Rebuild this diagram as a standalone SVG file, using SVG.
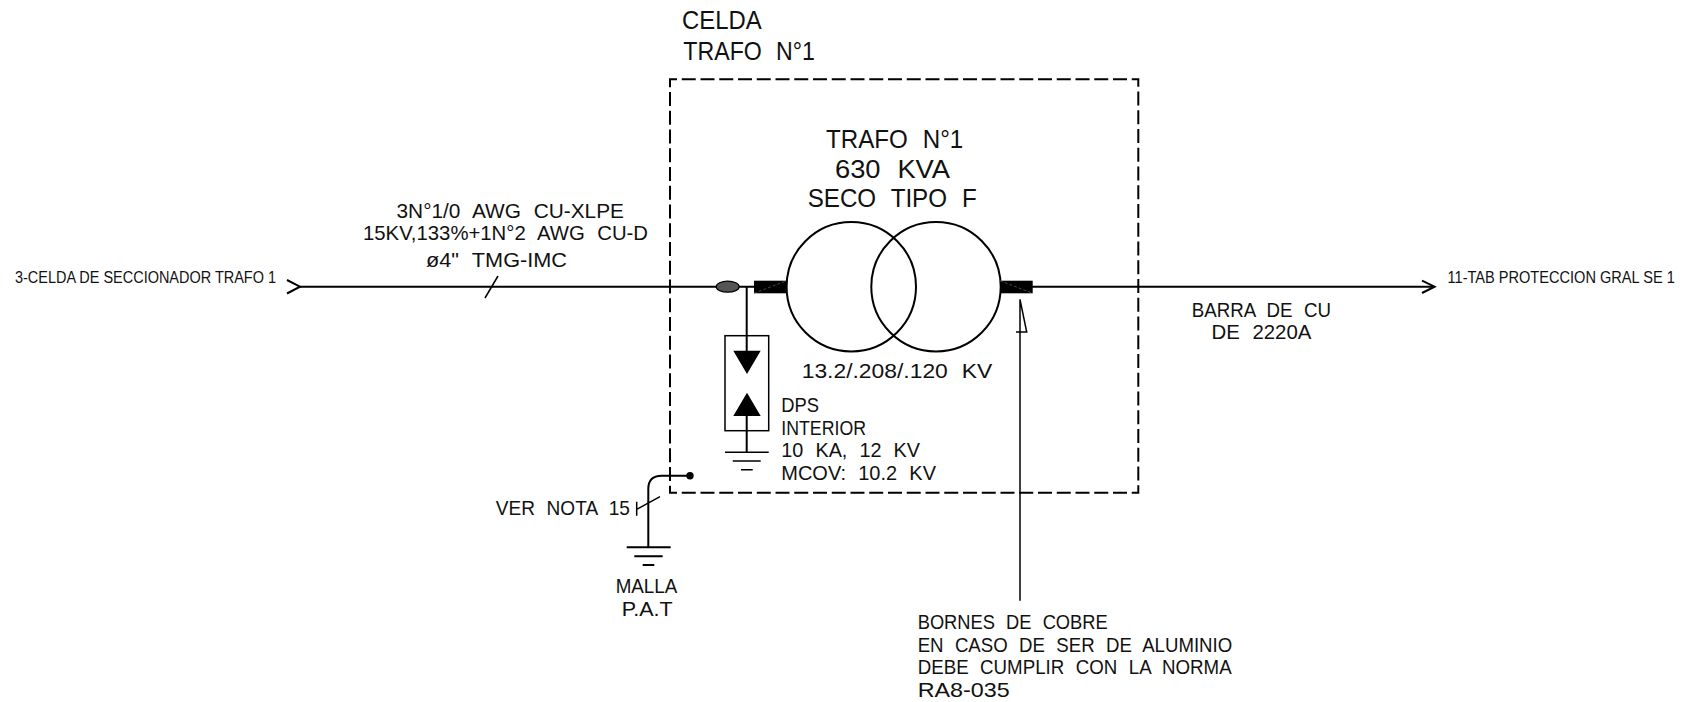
<svg xmlns="http://www.w3.org/2000/svg" width="1684" height="702" viewBox="0 0 1684 702">
<style>
text{font-family:"Liberation Sans",Arial,sans-serif;fill:#111;font-size:21px;word-spacing:7px}
.lg{font-size:26.5px;word-spacing:9px}
.sm{font-size:16px;word-spacing:0}
.xs{font-size:14.5px;word-spacing:0}
.l{fill:none;stroke:#000;stroke-width:2}
.t{fill:none;stroke:#000;stroke-width:1.5}
.b{fill:#000}
</style>
<rect width="1684" height="702" fill="#fff"/>
<g id="connectors">
<path class="l" d="M300 286.7H754M1032 286.7H1434"/>
<path class="l" d="M287 280L300 286.7L287 293.5M1422 280.7L1434.6 286.7L1422 293"/>
<path class="t" d="M498 276L485 298"/>
<path class="l" d="M746.7 286.7V360M746.7 405V452.3"/>
<path class="l" d="M690 475.7H661.7Q648.3 475.7 648.3 489V547.3"/>
<path class="t" d="M636.7 509.3L660 496.7M636.7 501.7V515.7"/>
<path class="t" d="M1020 600.7V299.3L1026.7 332H1016"/>
</g>
<g id="celda">
<rect x="670" y="79.3" width="468.3" height="413.4" fill="none" stroke="#000" stroke-width="2" stroke-dasharray="14 4.75" stroke-dashoffset="7"/>
<text class="lg" x="682" y="29.3" textLength="79.7" lengthAdjust="spacingAndGlyphs">CELDA</text>
<text class="lg" x="683.3" y="60" textLength="131.7" lengthAdjust="spacingAndGlyphs">TRAFO N°1</text>
</g>
<g id="transformer">
<circle class="l" cx="851.3" cy="286.7" r="64.7"/>
<circle class="l" cx="936" cy="286.7" r="64.7"/>
<rect class="b" x="754" y="280.7" width="32.7" height="12.6"/>
<rect class="b" x="1000" y="280.7" width="32.7" height="12.6"/>
<path d="M754 293.3L786.7 280.7M1000 280.7L1032.7 293.3" stroke="#777" stroke-width=".6" stroke-dasharray="3 2" fill="none"/>
<text class="lg" x="826" y="147.7" textLength="137.3" lengthAdjust="spacingAndGlyphs">TRAFO N°1</text>
<text class="lg" x="835" y="178.3" textLength="115" lengthAdjust="spacingAndGlyphs">630 KVA</text>
<text class="lg" x="807.7" y="207.3" textLength="169" lengthAdjust="spacingAndGlyphs">SECO TIPO F</text>
<text x="801.7" y="378.3" textLength="190.6" lengthAdjust="spacingAndGlyphs">13.2/.208/.120 KV</text>
</g>
<g id="cable">
<ellipse cx="727.7" cy="286.7" rx="11.5" ry="5.5" fill="#555" stroke="#000" stroke-width="1.2"/>
<text x="396.5" y="218.3" textLength="227.5" lengthAdjust="spacingAndGlyphs">3N°1/0 AWG CU-XLPE</text>
<text x="363" y="240" textLength="285" lengthAdjust="spacingAndGlyphs">15KV,133%+1N°2 AWG CU-D</text>
<text x="426" y="266.7" textLength="141" lengthAdjust="spacingAndGlyphs">ø4" TMG-IMC</text>
</g>
<g id="dps">
<rect x="725" y="335.7" width="43.7" height="95" fill="none" stroke="#000" stroke-width="1.5"/>
<path class="b" d="M733.3 350.7H760.7L747 374ZM733.3 416H760.7L747 392.7Z"/>
<path class="t" d="M725 452.3H768.7M732.7 461H760.7M741 469.7H752.7"/>
<text x="781.3" y="412.3" textLength="37.7" lengthAdjust="spacingAndGlyphs">DPS</text>
<text x="781.3" y="435" textLength="84.7" lengthAdjust="spacingAndGlyphs">INTERIOR</text>
<text x="781.3" y="457.3" textLength="138.7" lengthAdjust="spacingAndGlyphs">10 KA, 12 KV</text>
<text x="781.3" y="480" textLength="154.7" lengthAdjust="spacingAndGlyphs">MCOV: 10.2 KV</text>
</g>
<g id="ground">
<circle class="b" cx="690" cy="475.7" r="3.7"/>
<path class="l" d="M626.7 547.3H670.7M634.3 556.3H662.7M642.7 565H654.3"/>
<text x="495.7" y="515" textLength="134.3" lengthAdjust="spacingAndGlyphs">VER NOTA 15</text>
<text x="615.7" y="593.3" textLength="61.6" lengthAdjust="spacingAndGlyphs">MALLA</text>
<text x="621.7" y="615.7" textLength="51" lengthAdjust="spacingAndGlyphs">P.A.T</text>
</g>
<g id="origin"><text class="sm" x="15" y="283.3" textLength="261" lengthAdjust="spacingAndGlyphs">3-CELDA DE SECCIONADOR TRAFO 1</text></g>
<g id="destination"><text class="xs" transform="translate(1447.5 282.7) scale(1 1.1)" x="0" y="0" textLength="227.3" lengthAdjust="spacingAndGlyphs">11-TAB PROTECCION GRAL SE 1</text></g>
<g id="barra">
<text x="1191.7" y="316.7" textLength="139.3" lengthAdjust="spacingAndGlyphs">BARRA DE CU</text>
<text x="1211.6" y="339" textLength="99.8" lengthAdjust="spacingAndGlyphs">DE 2220A</text>
</g>
<g id="note">
<text x="917.7" y="629.3" textLength="190" lengthAdjust="spacingAndGlyphs">BORNES DE COBRE</text>
<text x="917.7" y="651.7" textLength="314.5" lengthAdjust="spacingAndGlyphs">EN CASO DE SER DE ALUMINIO</text>
<text x="917.7" y="674" textLength="314" lengthAdjust="spacingAndGlyphs">DEBE CUMPLIR CON LA NORMA</text>
<text x="917.7" y="696.7" textLength="92" lengthAdjust="spacingAndGlyphs">RA8-035</text>
</g>
</svg>
